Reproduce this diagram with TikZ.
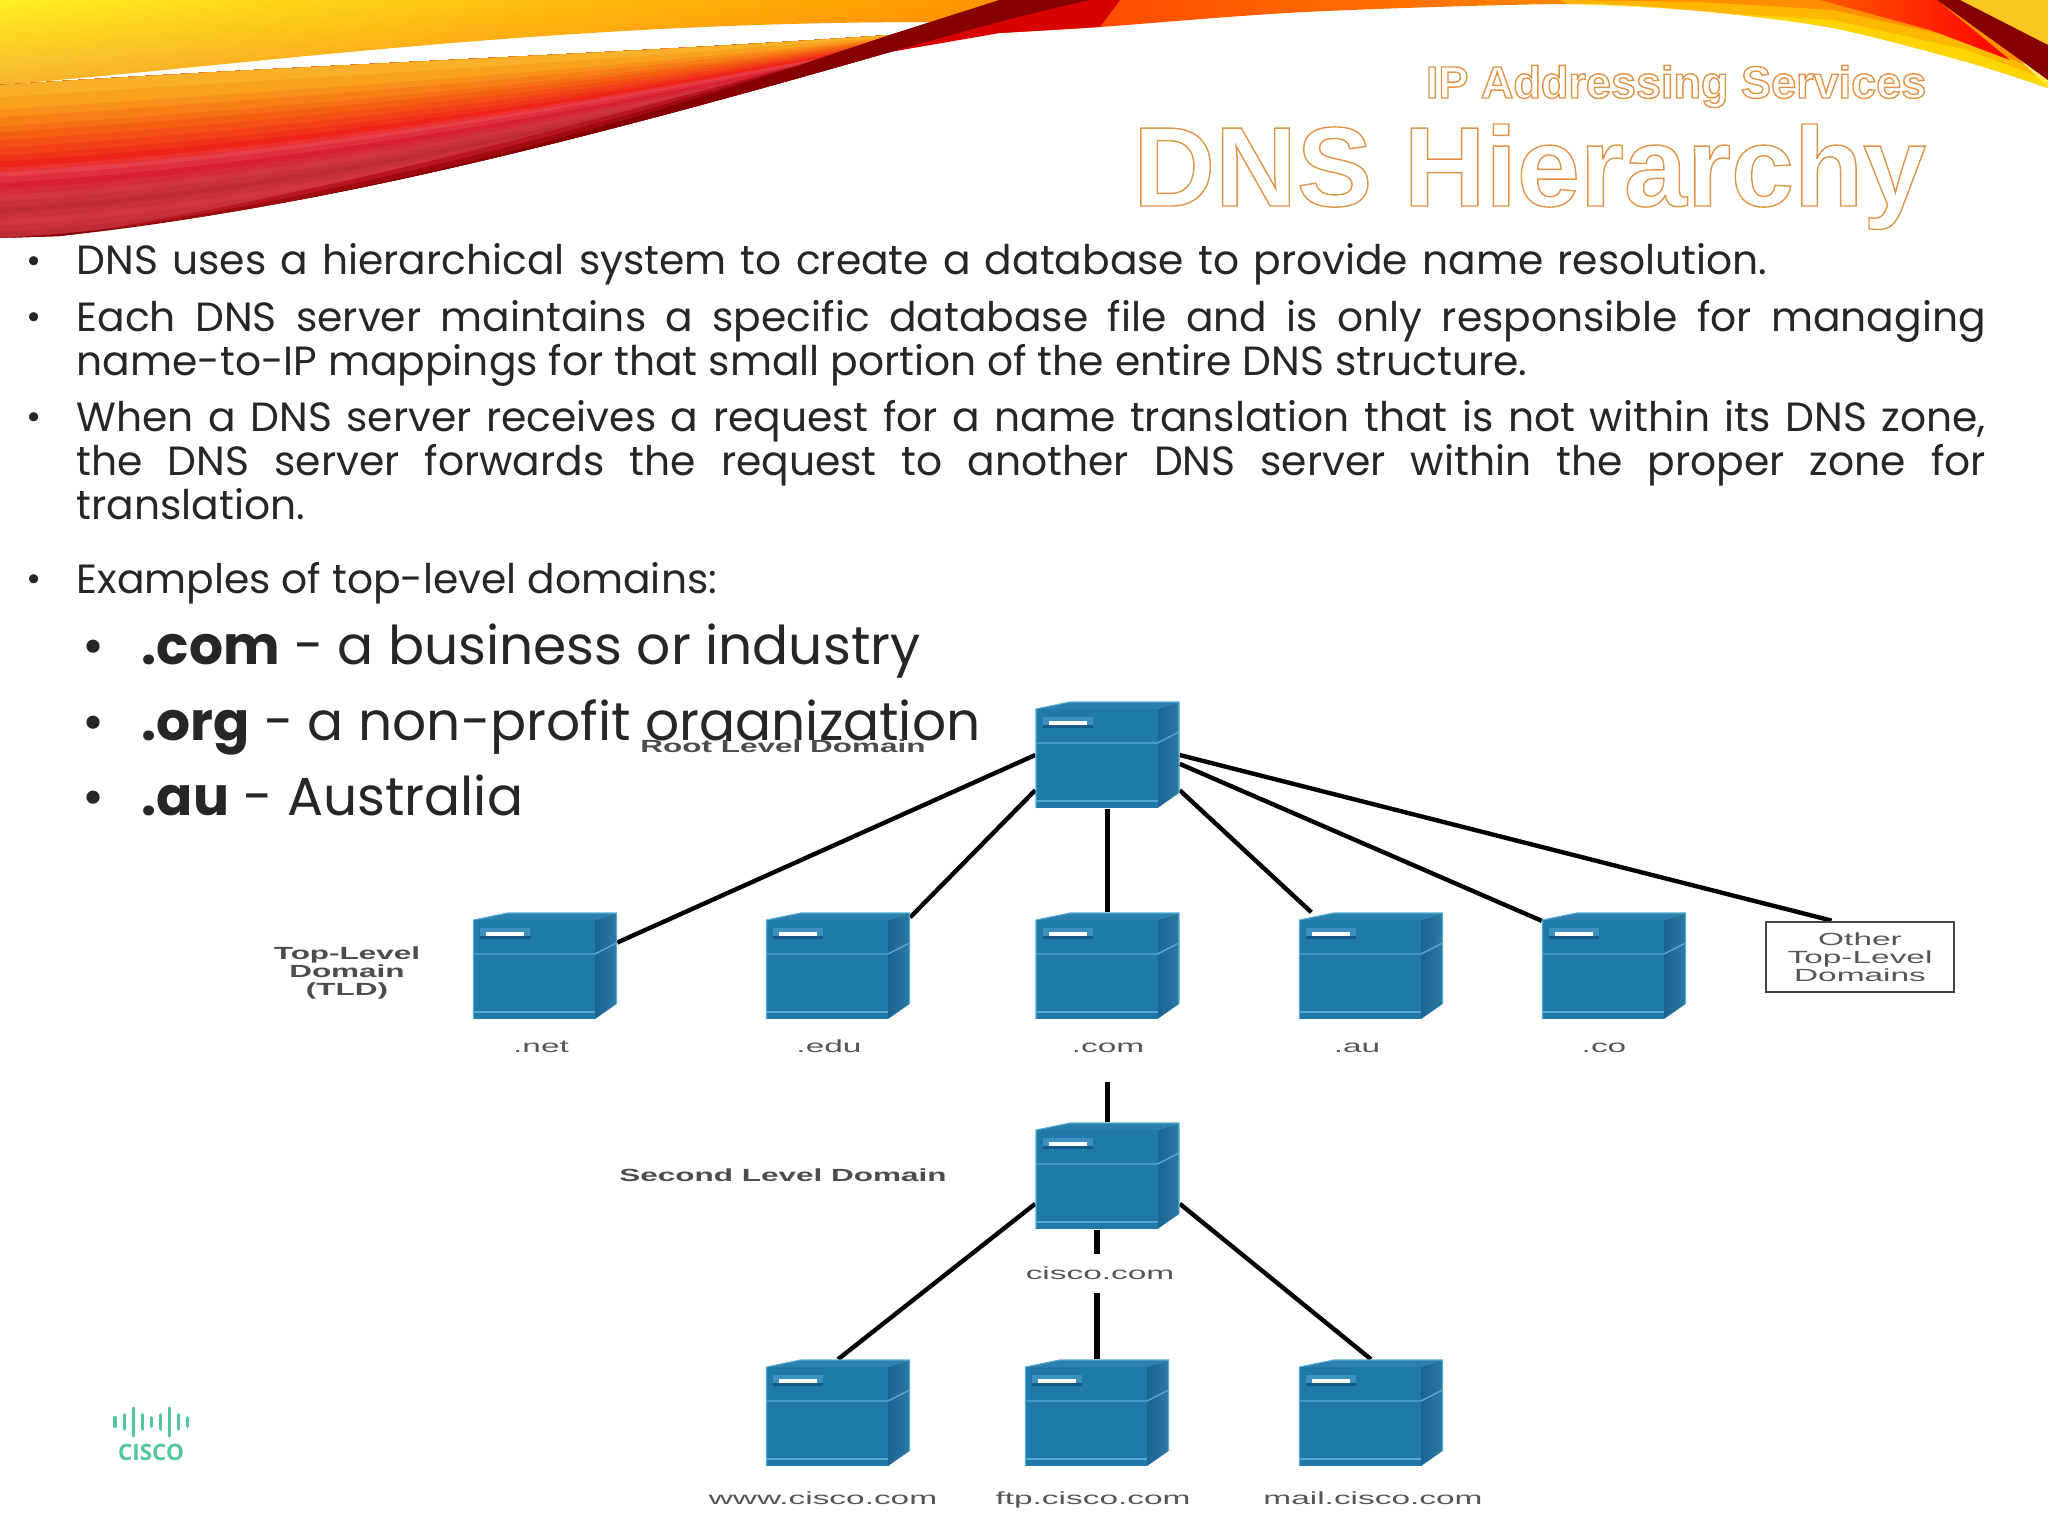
\documentclass[tikz,border=0pt]{standalone}
\usepackage{fontspec}
\setmainfont{Poppins}
\newfontfamily\lblfont[FakeStretch=1.9,BoldFeatures={FakeStretch=1.79}]{Liberation Sans}
\newfontfamily\titlefont{Liberation Sans}
\newfontfamily\logofont{Open Sans}
\usetikzlibrary{backgrounds,shadings}
\definecolor{srvfront}{HTML}{1F79A9}
\definecolor{srvtop}{HTML}{2B80AE}
\definecolor{srvsideA}{HTML}{1B6490}
\definecolor{srvsideB}{HTML}{2A7AA6}
\definecolor{srvedge}{HTML}{56AAD2}
\definecolor{srvslot}{HTML}{3C90BF}
\definecolor{srvslotdark}{HTML}{155A85}
\definecolor{logogreen}{HTML}{52C6A2}
\definecolor{lblgray}{HTML}{555555}
\definecolor{boxline}{HTML}{444444}
\definecolor{maroon}{HTML}{860000}
\definecolor{swtopA}{HTML}{FFF020}
\definecolor{swtopB}{HTML}{FF9400}
\definecolor{swtopC}{HTML}{F8B430}
\definecolor{swtopD}{HTML}{FF7400}
\definecolor{swZ}{HTML}{F8B02A}
\definecolor{swA}{HTML}{F9A21E}
\definecolor{swB}{HTML}{F77F16}
\definecolor{swC}{HTML}{F55F12}
\definecolor{swD}{HTML}{F24018}
\definecolor{swE}{HTML}{EE2418}
\definecolor{swF}{HTML}{E8404A}
\definecolor{swG}{HTML}{D82030}
\definecolor{swH}{HTML}{D23440}
\definecolor{swI}{HTML}{BE2C38}
\pgfdeclarehorizontalshading{swright}{100bp}{color(0bp)=(red!85!black); color(13bp)=(red); color(30bp)=(orange!60!red); color(55bp)=(orange!90!yellow); color(80bp)=(orange!85!yellow); color(100bp)=(orange!50!yellow)}
% text with an outline only, as the slide title has
\newcommand{\outlinetxt}[1]{\special{pdf:code q 1 Tr 0.4 w 0.88 0.58 0.28 RG}#1\special{pdf:code Q}}
\tikzset{
	bodytxt/.style={anchor=base west,inner sep=0pt,text width=19.08cm,align=justify,font=\fontsize{11.6pt}{12.55pt}\selectfont,text=black!85},
	subtxt/.style={anchor=base west,inner sep=0pt,font=\fontsize{15.2pt}{18pt}\selectfont,text=black!85},
	dot/.style={anchor=base,inner sep=0pt,font=\fontsize{10.45pt}{12.5pt}\selectfont,text=black!85},
	bigdot/.style={anchor=base,inner sep=0pt,font=\fontsize{15.2pt}{18pt}\selectfont,text=black!85},
	lbl/.style={inner sep=0pt,align=center,text=lblgray,font=\lblfont\fontsize{5pt}{5.2pt}\selectfont},
	boldlbl/.style={lbl,text=black!70,font=\lblfont\bfseries\fontsize{5pt}{5.2pt}\selectfont},
	conn/.style={line width=1.25pt,black},
	connv/.style={line width=1.6pt,black},
	serverframe/.style={inner sep=0pt,minimum width=1.43cm,minimum height=1.06cm},
	serverpic/.pic={
		\fill[srvtop] (-71.5,-46) -- (-37.5,-53) -- (71.5,-53) -- (50,-46) -- cycle;
		\shade[left color=srvsideA,right color=srvsideB] (50,-46) -- (71.5,-53) -- (71.5,38) -- (50,53) -- cycle;
		\fill[srvfront] (-71.5,-46) rectangle (50,53);
		\draw[srvedge,line width=.4pt] (-71.5,-12) -- (50,-12) -- (71.5,-23);
		\draw[srvedge,line width=.4pt] (-71.5,46) -- (50,46);
		\draw[srvedge,line width=.3pt] (-71.5,53) -- (-71.5,-46) -- (-37.5,-53) -- (71.5,-53) -- (71.5,38);
		\fill[srvslotdark] (-65,-38) rectangle (-15,-27);
		\fill[srvslot] (-65,-38) rectangle (-15,-30);
		\fill[white] (-59,-34) rectangle (-21,-30);
	}
}
\begin{document}
\begin{tikzpicture}[x=0.01cm,y=-0.01cm]
	\useasboundingbox (0,0) rectangle (2048,1536);
	% swoosh at the top
	\shade[shading=swright] (1000,0) -- (1960,0) -- (2048,88)
		-- plot[smooth] coordinates {(2048,88) (1967,62) (1833,28) (1700,11) (1567,4) (1305,12) (1100,27) (1000,33)} -- cycle;
	\fill[orange!30!yellow,opacity=.55] (1560,0) -- (1700,2) -- (1833,10) -- (1967,40) -- (2048,75)
		-- plot[smooth] coordinates {(2048,88) (1967,62) (1833,28) (1700,11) (1567,4)} -- cycle;
	\fill[yellow!90!orange,opacity=.6] (1720,13) -- (1833,20) -- (1967,50) -- (2048,80)
		-- plot[smooth] coordinates {(2048,88) (1967,62) (1833,28) (1720,13)} -- cycle;
	\shade[left color=orange!70!red,right color=red] (1820,0) -- (1937,0) -- (2010,60) -- (1930,30) -- cycle;
	\fill[yellow!55!orange!90!white] (1960,0) -- (2048,0) -- (2048,45) -- cycle;
	\fill[maroon] (1937,0) -- (1960,0) -- (2048,45) -- (2048,80) -- cycle;
	\shade[upper left=swtopA,upper right=swtopB,lower left=swtopC,lower right=swtopD] (0,0) -- (1010,0) -- (933,22) .. controls (550,22) and (250,65) .. (0,85) -- cycle;
	\foreach \s/\col in {1/swI,.96/swI!50!swH,.92/swH,.88/swH!50!swI,.84/swI,.80/swI!50!swH,.76/swH,.72/swH!50!swG,.68/swG,.64/swG!50!swF,.60/swF,.57/swF!50!swE,.54/swE,.50/swE!50!swD,.46/swD,.41/swD!50!swC,.36/swC,.31/swC!50!swB,.27/swB,.21/swB!50!swA,.16/swA,.08/swZ}{
		\pgfmathsetmacro{\ya}{85+153*\s}
		\pgfmathsetmacro{\xb}{300-50*\s}
		\pgfmathsetmacro{\yb}{65+160*\s}
		\pgfmathsetmacro{\xc}{600-50*\s}
		\pgfmathsetmacro{\yc}{55+95*\s}
		\pgfmathsetmacro{\yd}{35+17*\s}
		\fill[\col] (0,85) .. controls (300,65) and (600,55) .. (890,35) -- (890,\yd)
			.. controls (\xc,\yc) and (\xb,\yb) .. (0,\ya) -- cycle;
	}
	\fill[red!85!black] (1000,0) -- (1120,0) -- (1100,27) -- (1000,33) -- (890,52) -- (800,73) -- cycle;
	\foreach \dy/\col in {14/maroon!35!swG,7/maroon!70!swG,0/maroon}{
		\fill[\col] (60,236) .. controls (350,205-\dy) and (620,125-\dy) .. (800,65) -- (890,35) -- (1000,0) -- (1090,0)
			.. controls (1020,15) and (950,35) .. (890,52) .. controls (550,150) and (250,225) .. (0,238) -- cycle;
	}
	% header
	\node[anchor=base east,inner sep=0pt,font=\titlefont\bfseries\fontsize{12.8pt}{14pt}\selectfont] (subtitle) at (1927,98) {\outlinetxt{IP Addressing Services}};
	\node[anchor=base east,inner sep=0pt,font=\titlefont\bfseries\fontsize{32.2pt}{36pt}\selectfont] (title) at (1927,206) {\outlinetxt{DNS Hierarchy}};
	% bullets
	\node[dot] (d1) at (34,273) {•};
	\node[dot] (d2) at (34,329) {•};
	\node[dot] (d3) at (34,429) {•};
	\node[dot] (d4) at (34,591) {•};
	\node[bodytxt] (p1) at (76,274) {\spaceskip=1.3\fontdimen2\font DNS uses a hierarchical system to create a database to provide name resolution.};
	\node[bodytxt] (p2) at (76,331) {Each DNS server maintains a specific database file and is only responsible for managing\linebreak name-to-IP mappings for that small portion of the entire DNS structure.};
	\node[bodytxt] (p3) at (76,431) {When a DNS server receives a request for a name translation that is not within its DNS zone,\linebreak the DNS server forwards the request to another DNS server within the proper zone for\linebreak translation.};
	\node[bodytxt] (p4) at (76,593) {Examples of top-level domains:};
	\node[bigdot] (d5) at (94,664) {•};
	\node[bigdot] (d6) at (94,740) {•};
	\node[bigdot] (d7) at (94,815) {•};
	\node[subtxt] (s1) at (141,664) {\textbf{.com} - a business or industry};
	\node[subtxt] (s2) at (141,740) {\textbf{.org} - a non-profit organization};
	\node[subtxt] (s3) at (141,815) {\textbf{.au} - Australia};
	% the figure hides the descender under its label
	\fill[white] (630,741) rectangle (960,765);
	% servers
	\foreach \name/\xx/\yy in {root/1107.5/755,net/545/966,edu/838/966,com/1107.5/966,au/1371/966,co/1614/966,cisco/1107.5/1176,www/838/1413,ftp/1097/1413,mail/1371/1413}{
		\node[serverframe] (\name) at (\xx,\yy) {};
		\pic at (\name.center) {serverpic};
	}
	\node[lbl,draw=boxline,line width=.8pt,minimum width=1.88cm,minimum height=.7cm] (other) at (1860,957) {Other\\Top-Level\\Domains};
	% labels
	\node[boldlbl,anchor=base] (rootlbl) at (783,752) {Root Level Domain};
	\node[boldlbl] (tldlbl) at (347,973) {Top-Level\\Domain\\(TLD)};
	\node[boldlbl,anchor=base] (seclbl) at (783,1181) {Second Level Domain};
	\node[lbl,anchor=base] (netlbl) at (541,1052) {.net};
	\node[lbl,anchor=base] (edulbl) at (829,1052) {.edu};
	\node[lbl,anchor=base] (comlbl) at (1108,1052) {.com};
	\node[lbl,anchor=base] (aulbl) at (1357,1052) {.au};
	\node[lbl,anchor=base] (colbl) at (1604,1052) {.co};
	\node[lbl,anchor=base] (ciscolbl) at (1100,1279) {cisco.com};
	\node[lbl,anchor=base] (wwwlbl) at (823,1504) {www.cisco.com};
	\node[lbl,anchor=base] (ftplbl) at (1093,1504) {ftp.cisco.com};
	\node[lbl,anchor=base] (maillbl) at (1373,1504) {mail.cisco.com};
	% connectors
	\coordinate (comend) at (1107.5,1082);
	\coordinate (ciscoendA) at (1097,1254);
	\coordinate (ciscoendB) at (1097,1293);
	\begin{scope}[on background layer]
		\draw[conn] (root.west) -- (net.18);
		\draw[conn] (root.206) -- (edu.34);
		\draw[connv] (root.south) -- (com.north);
		\draw[conn] (root.-26) -- (au.138);
		\draw[conn] (root.-7) -- (co.148);
		\draw[conn] (root.east) -- (other.128);
		\draw[connv] (comend) -- (cisco.north);
		\draw[conn] (cisco.201) -- (www.north);
		\draw[conn] (cisco.-21) -- (mail.north);
		\draw[connv] (cisco.south -| ftp.north) -- (ciscoendA);
		\draw[connv] (ciscoendB) -- (ftp.north);
	\end{scope}
	% logo
	\foreach \xx/\hh in {115/4.3,124.3/7.2,133.3/14,142.3/7.2,151.7/4.3,160.7/7.2,169.7/14,178.7/7.2,187.7/4.3}{
		\draw[logogreen,line width=1pt,line cap=round] (\xx,1422-\hh) -- (\xx,1422+\hh);
	}
	\node[inner sep=0pt,text=logogreen,font=\logofont\bfseries\fontsize{6.4pt}{8pt}\selectfont] (logo) at (151,1452) {CISCO};
\end{tikzpicture}
\end{document}
